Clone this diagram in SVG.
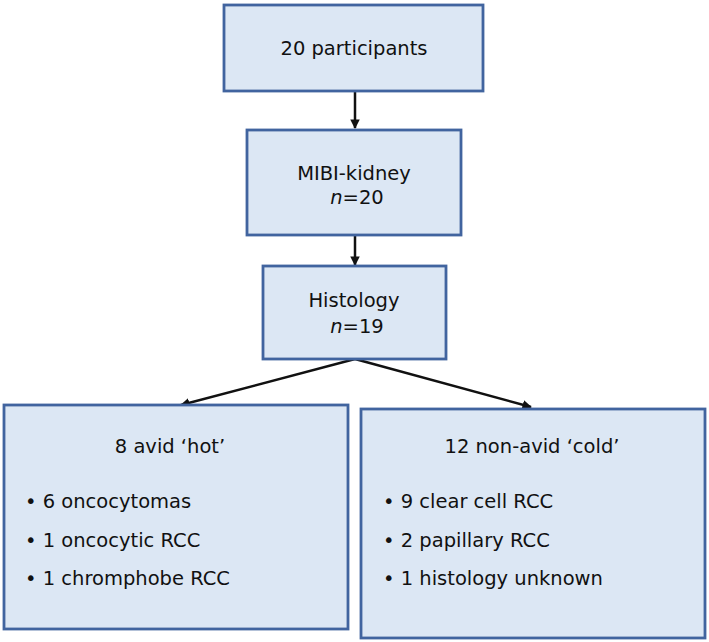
<svg xmlns="http://www.w3.org/2000/svg" width="709" height="642" viewBox="0 0 709 642">
<defs>
<style>
.box{fill:#dce7f4;stroke:#41649f;stroke-width:2.8}
.t{font-family:"DejaVu Sans","Liberation Sans",Arial,sans-serif;font-size:19.5px;fill:#111}
.c{text-anchor:middle}
.conn{stroke:#111;stroke-width:2.5;fill:none}
</style>
<marker id="ah" viewBox="0 0 10 10" refX="9" refY="5" markerWidth="3.8" markerHeight="3.8" orient="auto" markerUnits="strokeWidth">
<path d="M0,0 L10,5 L0,10 z" fill="#111"/>
</marker>
</defs>
<rect width="709" height="642" fill="#fff"/>
<g id="connectors">
<line class="conn" x1="355" y1="92" x2="355" y2="128" marker-end="url(#ah)"/>
<line class="conn" x1="355" y1="236" x2="355" y2="265" marker-end="url(#ah)"/>
<line class="conn" x1="355" y1="359" x2="181" y2="405" marker-end="url(#ah)"/>
<line class="conn" x1="355" y1="359" x2="531" y2="407" marker-end="url(#ah)"/>
</g>
<g id="n1">
<rect class="box" x="224" y="5" width="259" height="86"/>
<text class="t c" x="354" y="55">20 participants</text>
</g>
<g id="n2">
<rect class="box" x="247" y="130" width="214" height="105"/>
<text class="t c" x="354" y="180">MIBI-kidney</text>
<text class="t c" x="357" y="204"><tspan font-style="italic">n</tspan>=20</text>
</g>
<g id="n3">
<rect class="box" x="263" y="266" width="183" height="93"/>
<text class="t c" x="354" y="307">Histology</text>
<text class="t c" x="357" y="333"><tspan font-style="italic">n</tspan>=19</text>
</g>
<g id="n4">
<rect class="box" x="4" y="405" width="344" height="224"/>
<text class="t c" x="170" y="453">8 avid ‘hot’</text>
<text class="t" x="25" y="508">• 6 oncocytomas</text>
<text class="t" x="25" y="547">• 1 oncocytic RCC</text>
<text class="t" x="25" y="585">• 1 chromphobe RCC</text>
</g>
<g id="n5">
<rect class="box" x="361" y="409" width="344" height="229"/>
<text class="t c" x="532" y="453">12 non-avid ‘cold’</text>
<text class="t" x="383" y="508">• 9 clear cell RCC</text>
<text class="t" x="383" y="547">• 2 papillary RCC</text>
<text class="t" x="383" y="585">• 1 histology unknown</text>
</g>
</svg>
